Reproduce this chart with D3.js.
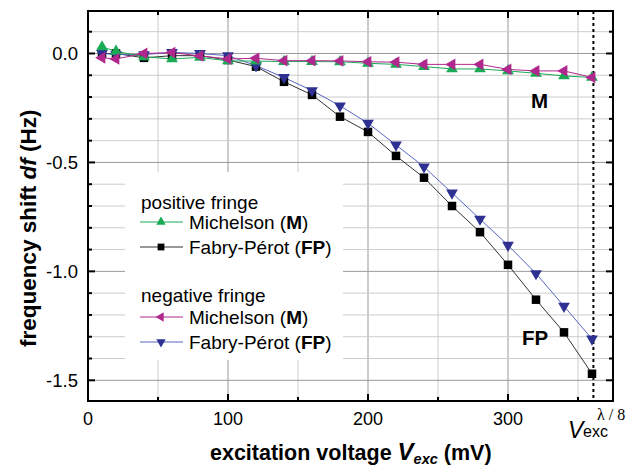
<!DOCTYPE html>
<html>
<head>
<meta charset="utf-8">
<script src="https://cdn.jsdelivr.net/npm/d3@7"></script>
<style>
  body { margin: 0; background: #fff; }
  svg { font-family: "Liberation Sans", Arial, sans-serif; }
</style>
</head>
<body>
<svg id="chart" width="636" height="468"></svg>
<script>
// excitation voltage (mV)
const voltage = [10, 20, 40, 60, 80, 100, 120, 140, 160, 180, 200, 220, 240, 260, 280, 300, 320, 340, 360];

// frequency shift df (Hz)
const posMichelson = [0.03, 0.01, -0.015, -0.025, -0.018, -0.034, -0.035, -0.037, -0.037, -0.038, -0.045, -0.05, -0.06, -0.071, -0.071, -0.08, -0.091, -0.103, -0.11];
const posFabry = [0.0, 0.0, -0.02, -0.01, -0.01, -0.03, -0.06, -0.13, -0.19, -0.29, -0.36, -0.47, -0.57, -0.70, -0.82, -0.97, -1.13, -1.28, -1.47];
const negMichelson = [-0.02, -0.025, 0.0, 0.004, -0.011, -0.025, -0.022, -0.033, -0.033, -0.034, -0.038, -0.04, -0.05, -0.05, -0.05, -0.073, -0.08, -0.08, -0.11];
const negFabry = [0.0, -0.005, -0.005, 0.005, 0.0, -0.01, -0.056, -0.11, -0.17, -0.24, -0.32, -0.42, -0.52, -0.64, -0.76, -0.88, -1.01, -1.16, -1.31];

const xTicks = [0, 100, 200, 300];
const yTicks = [0.0, -0.5, -1.0, -1.5];
const vLambda8 = 361;

const svg = d3.select("#chart");

const mLeft = 88, mRight = 613, mTop = 11, mBottom = 401;

const x = d3.scaleLinear().domain([0, 375]).range([mLeft, mRight]);
const y = d3.scaleLinear().domain([0.195, -1.595]).range([mTop, mBottom]);

const xMinor = d3.range(50, 375, 50);
const yMinor = d3.range(1, 18).map(i => +(0.2 - i * 0.1).toFixed(1));
const isMajorY = v => Math.abs(v * 2 - Math.round(v * 2)) < 1e-6;

// grid
const grid = svg.append("g");
xMinor.forEach(v => {
  grid.append("line")
    .attr("x1", x(v)).attr("x2", x(v)).attr("y1", mTop).attr("y2", mBottom)
    .attr("stroke", v % 100 === 0 ? "#999" : "#ccc").attr("stroke-width", 1);
});
yMinor.forEach(v => {
  grid.append("line")
    .attr("x1", mLeft).attr("x2", mRight).attr("y1", y(v)).attr("y2", y(v))
    .attr("stroke", isMajorY(v) ? "#999" : "#ccc").attr("stroke-width", 1);
});

// legend background hides the grid
svg.append("rect")
  .attr("x", 125).attr("y", 172).attr("width", 218).attr("height", 188)
  .attr("fill", "#fff");

// dotted line at V_exc^(lambda/8)
svg.append("line")
  .attr("x1", x(vLambda8)).attr("x2", x(vLambda8))
  .attr("y1", mTop).attr("y2", mBottom)
  .attr("stroke", "#000").attr("stroke-width", 2)
  .attr("stroke-dasharray", "3,3");

// series
const series = [
  { name: "posFP", values: posFabry, color: "#000", line: "#333", shape: "square" },
  { name: "negFP", values: negFabry, color: "#2e3192", line: "#5566c0", shape: "down" },
  { name: "posM", values: posMichelson, color: "#1aaa55", line: "#1aaa55", shape: "up" },
  { name: "negM", values: negMichelson, color: "#b0288e", line: "#b0288e", shape: "left" }
];

const line = d3.line()
  .x((d, i) => x(voltage[i]))
  .y(d => y(d));

function marker(g, shape, cx, cy, scale, color) {
  if (shape === "square") {
    const s = 8.5 * scale;
    g.append("rect")
      .attr("x", cx - s / 2).attr("y", cy - s / 2)
      .attr("width", s).attr("height", s)
      .attr("fill", color);
  } else {
    const rot = shape === "up" ? 0 : shape === "down" ? 180 : -90;
    g.append("path")
      .attr("d", d3.symbol().type(d3.symbolTriangle).size(60 * scale * scale)())
      .attr("transform", `translate(${cx},${cy}) rotate(${rot})`)
      .attr("fill", color);
  }
}

series.forEach(s => {
  svg.append("path")
    .datum(s.values)
    .attr("d", line)
    .attr("fill", "none")
    .attr("stroke", s.line)
    .attr("stroke-width", 1);
});
series.forEach(s => {
  const g = svg.append("g");
  s.values.forEach((v, i) => marker(g, s.shape, x(voltage[i]), y(v), 1, s.color));
});

// frame and ticks
svg.append("rect")
  .attr("x", mLeft).attr("y", mTop).attr("width", mRight - mLeft).attr("height", mBottom - mTop)
  .attr("fill", "none").attr("stroke", "#000").attr("stroke-width", 2);

const ticks = svg.append("g").attr("stroke", "#000").attr("stroke-width", 2);
xMinor.forEach(v => {
  const len = v % 100 === 0 ? 7 : 4;
  ticks.append("line").attr("x1", x(v)).attr("x2", x(v)).attr("y1", mBottom).attr("y2", mBottom - len);
  ticks.append("line").attr("x1", x(v)).attr("x2", x(v)).attr("y1", mTop).attr("y2", mTop + len);
});
yMinor.forEach(v => {
  const len = isMajorY(v) ? 7 : 4;
  ticks.append("line").attr("x1", mLeft).attr("x2", mLeft + len).attr("y1", y(v)).attr("y2", y(v));
  ticks.append("line").attr("x1", mRight).attr("x2", mRight - len).attr("y1", y(v)).attr("y2", y(v));
});

// tick labels
svg.append("g").selectAll("text")
  .data(xTicks).enter().append("text")
  .attr("x", d => x(d)).attr("y", 425)
  .attr("text-anchor", "middle")
  .attr("font-size", 18)
  .text(d => d);

svg.append("g").selectAll("text")
  .data(yTicks).enter().append("text")
  .attr("x", 78).attr("y", d => y(d) + 6.5)
  .attr("text-anchor", "end")
  .attr("font-size", 18.5)
  .text(d => d3.format(".1f")(d).replace("−", "-"));

// axis titles
const xt = svg.append("text")
  .attr("x", 210).attr("y", 460)
  .attr("font-size", 21.5).attr("font-weight", "bold");
xt.append("tspan").text("excitation voltage ");
xt.append("tspan").attr("font-style", "italic").attr("font-size", 24).text("V");
xt.append("tspan").attr("font-style", "italic").attr("font-size", 14.5).attr("dy", 4).text("exc");
xt.append("tspan").attr("dy", -4).text(" (mV)");

const yt = svg.append("text")
  .attr("transform", "translate(36,347) rotate(-90)")
  .attr("font-size", 22.5).attr("font-weight", "bold");
yt.append("tspan").text("frequency shift ");
yt.append("tspan").attr("font-style", "italic").text("df");
yt.append("tspan").text(" (Hz)");

// V_exc^(lambda/8) label
const vl = svg.append("text").attr("x", 568).attr("y", 438);
vl.append("tspan").attr("font-style", "italic").attr("font-size", 23).text("V");
vl.append("tspan").attr("x", 583).attr("y", 437).attr("font-size", 16).text("exc");
vl.append("tspan").attr("x", 597).attr("y", 420)
  .attr("font-family", "'Liberation Serif', 'Times New Roman', serif")
  .attr("font-size", 16).text("λ / 8");

// curve labels
svg.append("text").attr("x", 531).attr("y", 108)
  .attr("font-size", 20.5).attr("font-weight", "bold").text("M");
svg.append("text").attr("x", 522).attr("y", 345)
  .attr("font-size", 20.5).attr("font-weight", "bold").text("FP");

// legend
const legend = svg.append("g").attr("font-size", 19);
const legendRows = [
  { type: "title", text: "positive fringe", y: 202 },
  { type: "item", s: series[2], label: "Michelson", abbr: "M", y: 222 },
  { type: "item", s: series[0], label: "Fabry-Pérot", abbr: "FP", y: 247 },
  { type: "title", text: "negative fringe", y: 295 },
  { type: "item", s: series[3], label: "Michelson", abbr: "M", y: 317 },
  { type: "item", s: series[1], label: "Fabry-Pérot", abbr: "FP", y: 342 }
];
legendRows.forEach(r => {
  if (r.type === "title") {
    legend.append("text").attr("x", 141).attr("y", r.y + 7).text(r.text);
  } else {
    legend.append("line")
      .attr("x1", 140).attr("x2", 183).attr("y1", r.y).attr("y2", r.y)
      .attr("stroke", r.s.line).attr("stroke-width", 1);
    marker(legend, r.s.shape, 161, r.y, 0.8, r.s.color);
    const t = legend.append("text").attr("x", 189).attr("y", r.y + 7);
    t.append("tspan").text(r.label + " (");
    t.append("tspan").attr("font-weight", "bold").text(r.abbr);
    t.append("tspan").text(")");
  }
});
</script>
</body>
</html>
